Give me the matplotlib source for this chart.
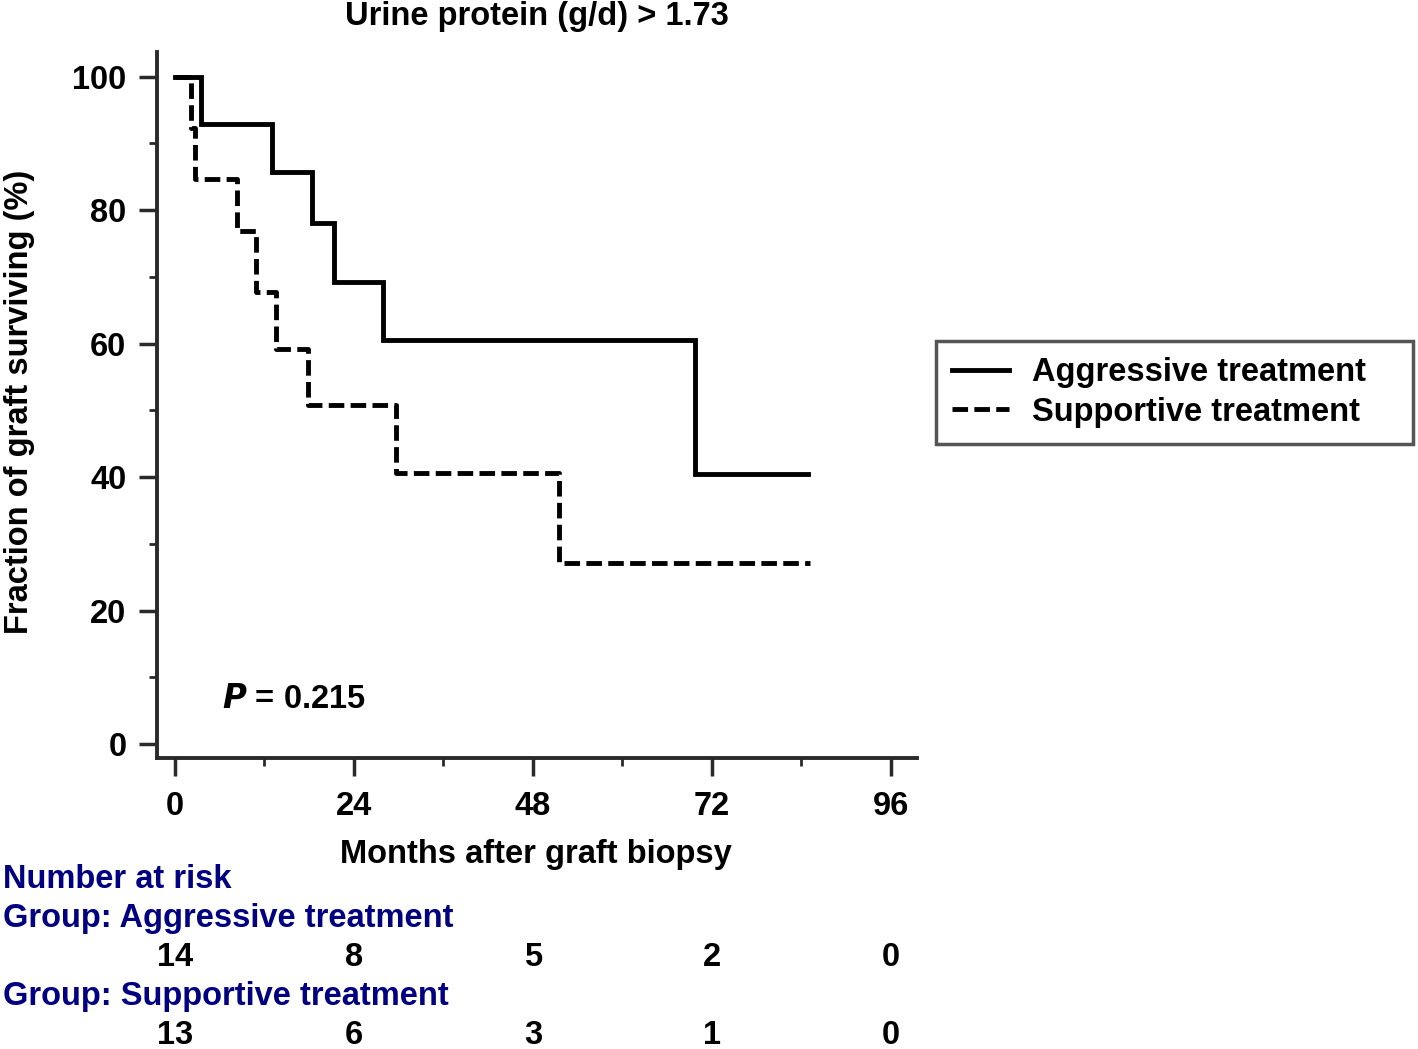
import numpy as np
import matplotlib
matplotlib.use("Agg")
import matplotlib.pyplot as plt

plt.rcParams['font.family'] = ['Liberation Sans', 'DejaVu Sans']
plt.rcParams['font.weight'] = 'bold'

# Kaplan-Meier step data (months, % surviving)
agg_t = [0, 3.5, 13.0, 18.4, 21.3, 27.9, 69.7, 84.9]
agg_s = [100, 92.9, 85.7, 78.0, 69.3, 60.6, 40.4, 40.4]
sup_t = [0, 2.1, 2.7, 8.3, 10.9, 13.6, 17.8, 29.7, 51.5, 85.1]
sup_s = [100, 92.3, 84.6, 76.9, 67.7, 59.2, 50.8, 40.6, 27.1, 27.1]

risk_times = [0, 24, 48, 72, 96]
risk_agg = [14, 8, 5, 2, 0]
risk_sup = [13, 6, 3, 1, 0]

W, H = 1418, 1049
fs = 23.5
fig = plt.figure(figsize=(W / 100, H / 100), dpi=100)
ax = fig.add_axes([157 / W, 1 - 758 / H, (917 - 157) / W, (758 - 52) / H])

ax.step(agg_t, agg_s, where='post', color='black', lw=3.5,
        label='Aggressive treatment', solid_joinstyle='miter')
ax.step(sup_t, sup_s, where='post', color='black', lw=3.5,
        dashes=(3.2, 1.3), label='Supportive treatment')

ax.set_xlim(-2.4, 99.5)
ax.set_ylim(-2.1, 103.7)
ax.set_xticks(risk_times)
ax.set_xticks([12, 36, 60, 84], minor=True)
ax.set_yticks([0, 20, 40, 60, 80, 100])
ax.set_yticks([10, 30, 50, 70, 90], minor=True)

for s in ['top', 'right']:
    ax.spines[s].set_visible(False)
for s in ['left', 'bottom']:
    ax.spines[s].set_linewidth(2.8)
    ax.spines[s].set_color('#2a2a2a')

ax.tick_params(which='major', length=13, width=2.5, color='#2a2a2a',
               labelsize=fs, pad=9)
ax.tick_params(axis='x', which='major', pad=11)
ax.tick_params(which='minor', length=6, width=2, color='#2a2a2a')

ax.text(6.3, 6.7, r'$\bfit{P}$ = 0.215', fontsize=fs, fontweight='bold',
        va='center', ha='left')

leg = ax.legend(loc='center left',
                bbox_to_anchor=(936 / W, 1 - 442 / H, (1413 - 936) / W, 99 / H),
                bbox_transform=fig.transFigure, mode='expand',
                fontsize=23.5, frameon=True,
                fancybox=False, edgecolor='#2a2a2a', handlelength=1.75,
                borderpad=0.5, labelspacing=0.25, handletextpad=0.7,
                borderaxespad=0)
leg.get_frame().set_linewidth(2.5)

fig.text(537 / W, 1 - 16 / H, 'Urine protein (g/d) > 1.73', fontsize=fs,
         ha='center', va='center')
fig.text(20 / W, 1 - 402 / H, 'Fraction of graft surviving (%)', fontsize=fs,
         rotation=90, ha='center', va='center')
fig.text(536 / W, 1 - 855 / H, 'Months after graft biopsy', fontsize=fs,
         ha='center', va='center')

navy = '#000080'
fig.text(3 / W, 1 - 880 / H, 'Number at risk', fontsize=fs, color=navy,
         ha='left', va='center')
fig.text(3 / W, 1 - 918 / H, 'Group: Aggressive treatment', fontsize=fs,
         color=navy, ha='left', va='center')
fig.text(3 / W, 1 - 996 / H, 'Group: Supportive treatment', fontsize=fs,
         color=navy, ha='left', va='center')

for t, a, s in zip(risk_times, risk_agg, risk_sup):
    x_fig = fig.transFigure.inverted().transform(ax.transData.transform((t, 0)))[0]
    fig.text(x_fig, 1 - 957 / H, str(a), fontsize=fs, ha='center', va='center')
    fig.text(x_fig, 1 - 1035 / H, str(s), fontsize=fs, ha='center', va='center')

fig.savefig('out.png', dpi=100)
